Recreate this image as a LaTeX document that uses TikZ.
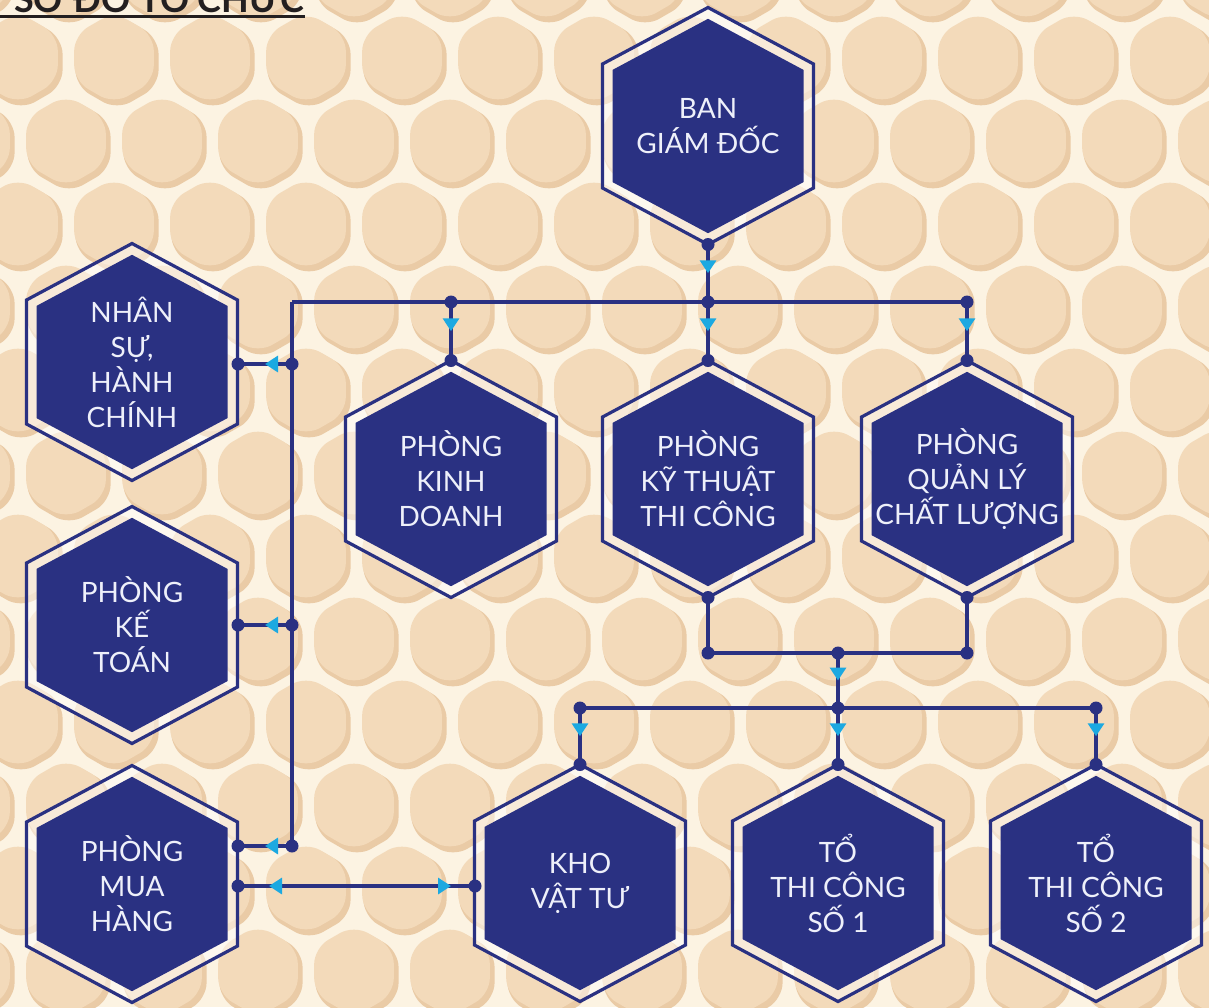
\documentclass[tikz,border=0pt]{standalone}
\usepackage{fontspec}
\setmainfont{Lato}
\usetikzlibrary{arrows.meta,decorations.markings,calc}
\definecolor{navy}{HTML}{2A3182}
\definecolor{sky}{HTML}{1CA9E1}
\definecolor{cream}{HTML}{FCF3E2}
\definecolor{cellfill}{HTML}{F3DABA}
\definecolor{cellshade}{HTML}{EACBA6}
\definecolor{titleink}{HTML}{231F20}
\definecolor{hexink}{HTML}{EEF0FA}
\tikzset{
  hexouter/.style={draw=navy, line width=3.2pt, fill=white, fill opacity=0.45, line join=miter},
  hexinner/.style={fill=navy},
  hextext/.style={align=center, text=hexink, inner sep=0pt, font=\fontsize{28}{35}\selectfont},
  link/.style={draw=navy, line width=3.3pt},
  flow/.style={link, postaction={decorate}, decoration={markings,
      mark=at position 0.5 with {\arrow{Triangle[length=13pt,width=16pt,color=sky,fill=sky]}}}},
  twoway/.style={link, postaction={decorate}, decoration={markings,
      mark=at position 31pt with {\arrowreversed{Triangle[length=13pt,width=16pt,color=sky,fill=sky]}},
      mark=at position -24pt with {\arrow{Triangle[length=13pt,width=16pt,color=sky,fill=sky]}}}},
  titletext/.style={text=titleink, inner sep=0pt, font=\fontsize{36}{40}\selectfont\bfseries},
}
\newcommand{\orghex}[4]{%
  \begin{scope}[shift={(#2,#3)}]
    \draw[hexouter] (0,-118.5) -- (105.5,-62) -- (105.5,62) -- (0,118.5) -- (-105.5,62) -- (-105.5,-62) -- cycle;
    \fill[hexinner] (0,-107.2) -- (95.5,-56.1) -- (95.5,56.1) -- (0,107.2) -- (-95.5,56.1) -- (-95.5,-56.1) -- cycle;
    \node[hextext] (#1) at (0,0) {#4};
    \coordinate (#1-top) at (0,-118.5);
    \coordinate (#1-bot) at (0,118.5);
  \end{scope}}
\begin{document}
\begin{tikzpicture}[x=1pt,y=-1pt]
\useasboundingbox (0,0) rectangle (1209,1007);
\clip (0,0) rectangle (1209,1007);
% background honeycomb
\fill[cream] (0,0) rectangle (1209,1007);
\foreach \r in {0,...,13}{
  \foreach \c in {0,...,13}{
    \pgfmathsetmacro{\cx}{\c*96 + mod(\r,2)*48 - 30}
    \pgfmathsetmacro{\cy}{\r*83 - 25}
    \fill[cellshade, rounded corners=16pt, shift={(\cx+3,\cy+4)}] (90:48) -- (30:48) -- (-30:48) -- (-90:48) -- (-150:48) -- (150:48) -- cycle;
    \fill[cellfill, rounded corners=16pt, shift={(\cx,\cy)}] (90:46) -- (30:46) -- (-30:46) -- (-90:46) -- (-150:46) -- (150:46) -- cycle;
  }
}
% title (cut off at top, as in the reference)
\node[titletext, anchor=base west] (title) at (14,12) {SƠ ĐỒ TỔ CHỨC};
\coordinate (ulA) at (0,16.5);
\coordinate (ulB) at (305,16.5);
\draw[titleink, line width=3.5pt] (ulA) -- (ulB);

% hexagons
\orghex{ban}{708}{126}{BAN\\GIÁM ĐỐC}
\orghex{ns}{132}{362}{NHÂN\\SỰ,\\HÀNH\\CHÍNH}
\orghex{kd}{451}{479}{PHÒNG\\KINH\\DOANH}
\orghex{kt}{708}{479}{PHÒNG\\KỸ THUẬT\\THI CÔNG}
\orghex{ql}{967}{479}{PHÒNG\\QUẢN LÝ\\CHẤT LƯỢNG}
\orghex{kto}{132}{625}{PHÒNG\\KẾ\\TOÁN}
\orghex{mua}{132}{884}{PHÒNG\\MUA\\HÀNG}
\orghex{kho}{580}{883}{KHO\\VẬT TƯ}
\orghex{to1}{838}{883}{TỔ\\THI CÔNG\\SỐ 1}
\orghex{to2}{1096}{883}{TỔ\\THI CÔNG\\SỐ 2}

% side anchors and junctions
\coordinate (ns-r) at (238,364);
\coordinate (kto-r) at (238,625);
\coordinate (mua-r1) at (238,846);
\coordinate (mua-r2) at (238,886);
\coordinate (kho-l) at (475,886);
\coordinate (jL) at (292,302);
\coordinate (jKD) at (451,302);
\coordinate (jB) at (708,302);
\coordinate (jQL) at (967,302);
\coordinate (jNS) at (292,364);
\coordinate (jKTO) at (292,625);
\coordinate (jMUA) at (292,846);
\coordinate (jKT2) at (708,653);
\coordinate (jM) at (838,653);
\coordinate (jQL2) at (967,653);
\coordinate (jKHO) at (580,708);
\coordinate (jN) at (838,708);
\coordinate (jTO2) at (1096,708);

% connectors
\draw[flow] (ban-bot) -- (jB);
\draw[link] (jL) -- (jQL);
\draw[link] (jL) -- (jMUA);
\draw[flow] (jKD) -- (kd-top);
\draw[flow] (jB) -- (kt-top);
\draw[flow] (jQL) -- (ql-top);
\draw[flow] (jNS) -- (ns-r);
\draw[flow] (jKTO) -- (kto-r);
\draw[flow] (jMUA) -- (mua-r1);
\draw[twoway] (mua-r2) -- (kho-l);
\draw[link] (kt-bot) -- (jKT2) -- (jQL2) -- (ql-bot);
\draw[flow] (jM) -- (jN);
\draw[link] (jKHO) -- (jTO2);
\draw[flow] (jKHO) -- (kho-top);
\draw[flow] (jN) -- (to1-top);
\draw[flow] (jTO2) -- (to2-top);

% dots
\foreach \p in {ban-bot,jB,jKD,jQL,kd-top,kt-top,ql-top,jNS,jKTO,jMUA,ns-r,kto-r,mua-r1,mua-r2,kho-l,kt-bot,ql-bot,jKT2,jM,jQL2,jKHO,jN,jTO2,kho-top,to1-top,to2-top}
  \fill[navy] (\p) circle (6.5pt);
\end{tikzpicture}
\end{document}
